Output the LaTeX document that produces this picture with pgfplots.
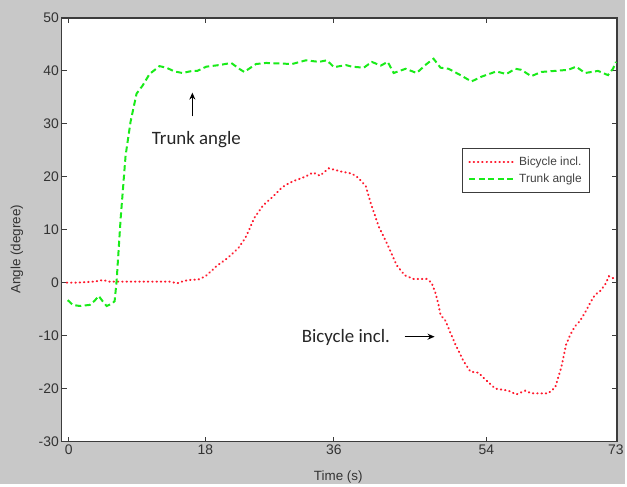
\documentclass[border=0pt]{standalone}
\usepackage{fontspec}
\setmainfont{Liberation Sans}
\newfontfamily\calib{Carlito}
\usepackage{pgfplots}
\pgfplotsset{compat=1.18}
\usetikzlibrary{arrows.meta}
\definecolor{bg}{RGB}{200,200,200}
\definecolor{axgray}{RGB}{60,60,60}
\definecolor{redline}{RGB}{255,25,45}
\definecolor{greenline}{RGB}{25,235,25}
\begin{document}
\begin{tikzpicture}
\fill[bg] (0,0) rectangle (627bp,486bp);
\begin{axis}[
  at={(62bp,43bp)}, anchor=south west,
  scale only axis, width=557bp, height=425bp,
  xmin=62, xmax=619, ymin=-30, ymax=50,
  xtick={69,206,335,488,618}, xticklabels={0,18,36,54,73},
  ytick={-30,-20,...,50},
  tick align=inside, major tick length=5bp,
  axis background/.style={fill=white},
  axis line style={draw=axgray, line width=1.4bp},
  every tick/.style={axgray, line width=0.8bp},
  tick label style={font=\fontsize{14}{16}\selectfont, text=black!80},
  yticklabel style={xshift=0.5bp},
  /pgf/number format/assume math mode=true,
  xlabel={Time (s)}, ylabel={Angle (degree)},
  label style={font=\fontsize{13.5}{15}\selectfont, text=black!80},
  xlabel style={at={(axis description cs:0.498,-0.092)}, anchor=base},
  ylabel style={at={(axis description cs:-0.081,0.454)}, anchor=center},
  legend style={at={(0.9515,0.6918)}, anchor=north east, draw=axgray, line width=0.8bp,
    font=\fontsize{12}{14}\selectfont, text=black!75, inner xsep=6bp, inner ysep=6bp,
    row sep=3bp},
  legend cell align=left,
  legend image code/.code={\draw[#1] (0bp,0bp) -- (44bp,0bp); \path (47bp,0bp);},
]
\addplot[redline, line width=2bp, line cap=round, dash pattern=on 0.5bp off 3.8bp] coordinates {
(67,0) (75,0) (85,0.1) (95,0.2) (103,0.5) (110,0.2) (125,0.2) (140,0.2) (155,0.2) (170,0.2)
(178,-0.1) (184,0.3) (189,0.5) (199,0.6) (206,1.2) (212,2.2) (217,3.1) (228,4.6) (239,6.5)
(246,8.4) (250,10) (255,12.2) (264,14.6) (274,16.3) (283,18) (290,18.8) (296,19.3) (306,20.0)
(314,20.8) (321,20.2) (330,21.6) (342,21.0) (353,20.6) (358,20) (362,19.3) (367,18.2) (372,15.0)
(380,10.6) (389,7.1) (398,3.3) (406,1.4) (415,0.7) (428,0.7) (433,0) (437,-2) (440,-4.2)
(442,-6.1) (447,-7.2) (452,-9.5) (457,-11.7) (465,-14.8) (472,-16.8) (480,-17.0) (487,-18.3)
(497,-20) (510,-20.4) (518,-21.1) (527,-20.4) (533,-20.9) (550,-20.9) (557,-19.8) (563,-16.1)
(568,-11.7) (572,-9.9) (577,-8.2) (582,-7.2) (588,-5.3) (593,-3.5) (597,-2.3) (602,-1.6)
(607,-0.4) (611,1.2) (617,0.7)
};
\addlegendentry{Bicycle incl.}
\addplot[greenline, line width=2bp, dash pattern=on 6bp off 3.5bp] coordinates {
(68,-3.3) (73,-4.2) (80,-4.4) (90,-4.2) (95,-3.4) (99,-2.5) (103,-3.5) (107,-4.4) (112,-4.0)
(115,-3.5) (117,0.3) (121,12) (126,24) (131,30.4) (137,35.7) (143,37.2) (150,39.4) (160,40.9)
(167,40.6) (175,39.9) (183,39.6) (193,40.0) (198,40) (207,40.8) (220,41.1) (232,41.5) (240,40.4)
(245,39.8) (257,41.3) (267,41.5) (293,41.3) (307,42) (320,41.7) (328,42) (335,40.7) (347,41.1)
(353,40.8) (365,40.6) (373,41.7) (382,41.0) (389,41.7) (395,39.6) (407,40.4) (418,39.6)
(428,41.3) (435,42.3) (442,40.6) (450,40.4) (462,39.2) (473,38.0) (483,38.9) (498,39.9)
(508,39.4) (517,40.4) (523,40.2) (533,39.0) (543,39.8) (557,40.0) (570,40.2) (578,40.8)
(587,39.6) (600,40.0) (610,39.2) (615,40.4) (618,41.7)
};
\addlegendentry{Trunk angle}
\node[font=\calib\fontsize{19}{22}\selectfont, text=black!85] at (axis cs:197,27) {Trunk angle};
\draw[line width=1.5bp, -{Stealth[length=7bp,width=6bp]}] (axis cs:193,31.4) -- (axis cs:193,35.9);
\node[font=\calib\fontsize{19}{22}\selectfont, text=black!85] at (axis cs:347,-10.4) {Bicycle incl.};
\draw[line width=1.5bp, -{Stealth[length=7bp,width=6bp]}] (axis cs:406,-10.2) -- (axis cs:436,-10.2);
\end{axis}
\end{tikzpicture}
\end{document}
